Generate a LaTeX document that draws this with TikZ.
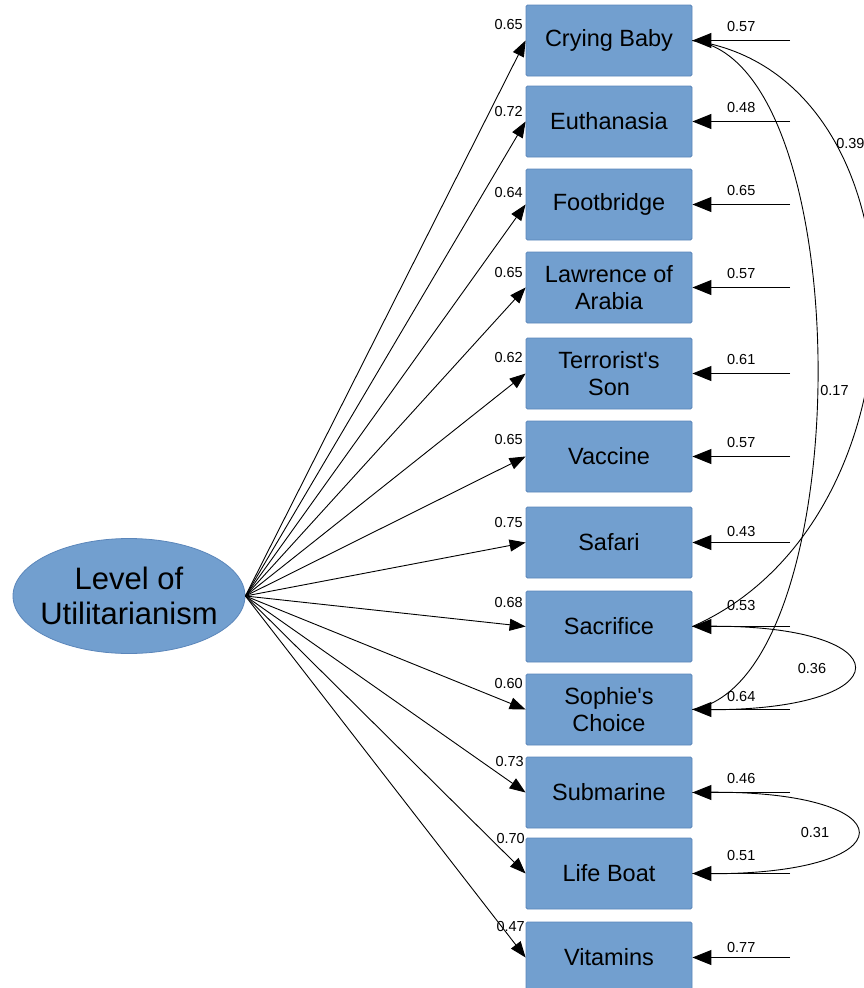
\documentclass[tikz,border=0pt]{standalone}
\usepackage{fontspec}
\setmainfont{Liberation Sans}
\usetikzlibrary{shapes.geometric,arrows.meta}
\definecolor{boxblue}{HTML}{729FCF}
\definecolor{edgeblue}{HTML}{5B86BA}
\tikzset{
  obs/.style={rectangle, fill=boxblue, draw=edgeblue, line width=0.8pt,
    rounded corners=1.5pt, minimum width=166pt, minimum height=71pt,
    inner sep=0pt, align=center, font=\fontsize{23.5}{27}\selectfont},
  latent/.style={ellipse, fill=boxblue, draw=edgeblue, line width=0.8pt,
    minimum width=232pt, minimum height=115pt, inner sep=0pt},
  latenttext/.style={align=center, inner sep=0pt,
    font=\fontsize{31}{35}\selectfont},
  load/.style={-{Triangle[length=16pt,width=12pt]}, line width=0.9pt},
  resid/.style={-{Triangle[length=19pt,width=15pt]}, line width=0.9pt},
  coef/.style={font=\fontsize{14.5}{16}\selectfont, inner sep=0pt},
}
\begin{document}
\begin{tikzpicture}[x=1pt,y=-1pt]
      \useasboundingbox (0,0) rectangle (863,988);
      \node[latent] (lu) at (129,596) {};
      \node[latenttext] (lut) at (lu.center) {Level of\\Utilitarianism};
      \node[obs] (cb) at (609,40.5) {Crying Baby};
      \node[obs] (eu) at (609,121.5) {Euthanasia};
      \node[obs] (fb) at (609,204.5) {Footbridge};
      \node[obs] (la) at (609,287.5) {Lawrence of\\Arabia};
      \node[obs] (ts) at (609,373.5) {Terrorist\textquotesingle s\\Son};
      \node[obs] (va) at (609,456.5) {Vaccine};
      \node[obs] (sa) at (609,542.5) {Safari};
      \node[obs] (sc) at (609,626.5) {Sacrifice};
      \node[obs] (sp) at (609,709.5) {Sophie\textquotesingle s\\Choice};
      \node[obs] (su) at (609,792.5) {Submarine};
      \node[obs] (lb) at (609,873.5) {Life Boat};
      \node[obs] (vi) at (609,957.5) {Vitamins};
      % error terms
      \coordinate (ecb) at (790,40.5);
      \coordinate (eeu) at (790,121.5);
      \coordinate (efb) at (790,204.5);
      \coordinate (ela) at (790,287.5);
      \coordinate (ets) at (790,373.5);
      \coordinate (eva) at (790,456.5);
      \coordinate (esa) at (790,542.5);
      \coordinate (esc) at (790,626.5);
      \coordinate (esp) at (790,709.5);
      \coordinate (esu) at (790,792.5);
      \coordinate (elb) at (790,873.5);
      \coordinate (evi) at (790,957.5);
      % loadings
      \begin{scope}[load]
        \draw (lu.east) to (cb.west);
        \draw (lu.east) to (eu.west);
        \draw (lu.east) to (fb.west);
        \draw (lu.east) to (la.west);
        \draw (lu.east) to (ts.west);
        \draw (lu.east) to (va.west);
        \draw (lu.east) to (sa.west);
        \draw (lu.east) to (sc.west);
        \draw (lu.east) to (sp.west);
        \draw (lu.east) to (su.west);
        \draw (lu.east) to (lb.west);
        \draw (lu.east) to (vi.west);
      \end{scope}
      \node[coef, anchor=east] (lcb) at (523,25) {0.65};
      \node[coef, anchor=east] (leu) at (523,112) {0.72};
      \node[coef, anchor=east] (lfb) at (523,193) {0.64};
      \node[coef, anchor=east] (lla) at (523,273) {0.65};
      \node[coef, anchor=east] (lts) at (523,358) {0.62};
      \node[coef, anchor=east] (lva) at (523,440) {0.65};
      \node[coef, anchor=east] (lsa) at (523,523) {0.75};
      \node[coef, anchor=east] (lsc) at (523,602) {0.68};
      \node[coef, anchor=east] (lsp) at (523,683) {0.60};
      \node[coef, anchor=east] (lsu) at (524,761) {0.73};
      \node[coef, anchor=east] (llb) at (525,838) {0.70};
      \node[coef, anchor=east] (lvi) at (525,926) {0.47};
      % residuals
      \begin{scope}[resid]
        \draw (ecb) to node[coef, midway, above=8pt] {0.57} (cb.east);
        \draw (eeu) to node[coef, midway, above=8pt] {0.48} (eu.east);
        \draw (efb) to node[coef, midway, above=8pt] {0.65} (fb.east);
        \draw (ela) to node[coef, midway, above=8pt] {0.57} (la.east);
        \draw (ets) to node[coef, midway, above=8pt] {0.61} (ts.east);
        \draw (eva) to node[coef, midway, above=8pt] {0.57} (va.east);
        \draw (esa) to node[coef, midway, above=5pt] {0.43} (sa.east);
        \draw (esc) to node[coef, midway, above=15pt] {0.53} (sc.east);
        \draw (esp) to node[coef, midway, above=7pt] {0.64} (sp.east);
        \draw (esu) to node[coef, midway, above=8pt] {0.46} (su.east);
        \draw (elb) to node[coef, midway, above=12pt] {0.51} (lb.east);
        \draw (evi) to node[coef, midway, above=4pt] {0.77} (vi.east);
      \end{scope}
      % covariances
      \begin{scope}[line width=0.9pt]
        \draw (cb.east) .. controls (935,75) and (935,520) ..
          node[coef, pos=0.27, anchor=west] {0.39} (sc.east);
        \draw (cb.east) .. controls (860,60) and (860,680) ..
          node[coef, pos=0.52, anchor=west, xshift=2pt] {0.17} (sp.east);
        \draw (sc.east) .. controls (910,620) and (910,715) .. (sp.east);
        \draw (su.east) .. controls (915,786) and (915,879) .. (lb.east);
      \end{scope}
      \node[coef] (c36) at (812,668) {0.36};
      \node[coef] (c31) at (815,832) {0.31};
    \end{tikzpicture}
\end{document}
